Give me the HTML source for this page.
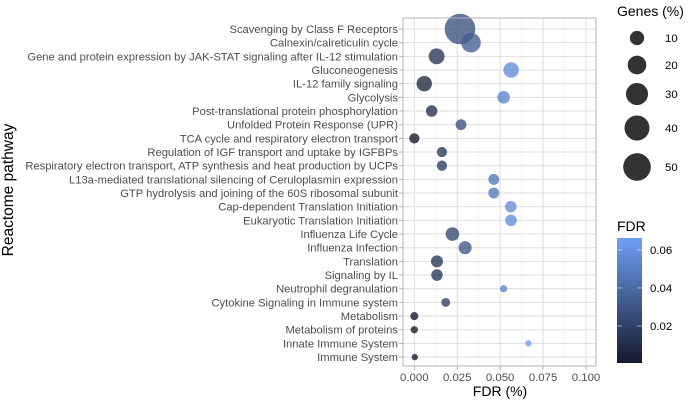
<!DOCTYPE html>
<html><head><meta charset="utf-8"><style>
body{margin:0;background:#fff;}
svg{display:block;font-family:"Liberation Sans",Arial,sans-serif;}
</style></head><body>
<svg id="c" width="688" height="403" viewBox="0 0 688 403">
<defs><linearGradient id="fdrgrad" x1="0" y1="1" x2="0" y2="0">
<stop offset="0" stop-color="#141a2b"/><stop offset="1" stop-color="#6fa0f7"/></linearGradient></defs>
<g id="grid"></g><g id="marks"></g><g id="axes"></g>
<text x="13" y="190" transform="rotate(-90 13 190)" text-anchor="middle" font-size="15.5" fill="#000">Reactome pathway</text>
<text x="500" y="396" text-anchor="middle" font-size="14" fill="#000">FDR (%)</text>
<g>
<text x="617" y="16" font-size="14" fill="#000">Genes (%)</text>
<g id="sizeleg"></g></g>
<g>
<text x="617" y="231" font-size="14" fill="#000">FDR</text>
<rect x="617" y="238" width="25" height="125" fill="url(#fdrgrad)"/>
<g id="colleg"></g></g>
</svg>
<script>
const categories=["Scavenging by Class F Receptors","Calnexin/calreticulin cycle","Gene and protein expression by JAK-STAT signaling after IL-12 stimulation","Gluconeogenesis","IL-12 family signaling","Glycolysis","Post-translational protein phosphorylation","Unfolded Protein Response (UPR)","TCA cycle and respiratory electron transport","Regulation of IGF transport and uptake by IGFBPs","Respiratory electron transport, ATP synthesis and heat production by UCPs","L13a-mediated translational silencing of Ceruloplasmin expression","GTP hydrolysis and joining of the 60S ribosomal subunit","Cap-dependent Translation Initiation","Eukaryotic Translation Initiation","Influenza Life Cycle","Influenza Infection","Translation","Signaling by IL","Neutrophil degranulation","Cytokine Signaling in Immune system","Metabolism","Metabolism of proteins","Innate Immune System","Immune System"];
const fdrValues=[0.0266,0.033,0.013,0.0564,0.0058,0.052,0.0101,0.0272,0.0,0.0161,0.0161,0.0463,0.0463,0.0562,0.0563,0.0222,0.0296,0.0132,0.0132,0.052,0.0183,0.0,0.0,0.0664,0.0003];
const geneValues=[68,26,16,15,15,9,7,6,5,5,5,6,6,7,7,11,10,8,7,1,3,2,1,0,0];
const xTicks=[0,0.025,0.05,0.075,0.1];
const xTickLabels=["0.000","0.025","0.050","0.075","0.100"];
const sizeLegendValues=[10,20,30,40,50];
const colorTicks=[0.02,0.04,0.06];
const colorTickLabels=["0.02","0.04","0.06"];

const NS="http://www.w3.org/2000/svg";
const PL=403,PR=596,PT=18,PB=366;
const x=v=>414.3+v/0.1*171.7;
const y=i=>29+i*13.67;
const r=v=>Math.sqrt(10+3.3*v);
const cy=v=>363-(v-0.0005)/(0.0663-0.0005)*125;
function lerp(a,b,t){return Math.round(a+(b-a)*t);}
function col(v){let t=Math.max(0,Math.min(1,v/0.0663));
 return `rgb(${lerp(20,111,t)},${lerp(26,160,t)},${lerp(43,247,t)})`;}
function mk(tag,attrs,parent){const e=document.createElementNS(NS,tag);for(const k in attrs)e.setAttribute(k,attrs[k]);parent.appendChild(e);return e;}
const grid=document.getElementById('grid'),marks=document.getElementById('marks'),axes=document.getElementById('axes');
mk('rect',{x:PL,y:PT,width:PR-PL,height:PB-PT,fill:'#fff'},grid);
for(let i=0;i<xTicks.length-1;i++){const xm=x((xTicks[i]+xTicks[i+1])/2);
 mk('line',{x1:xm,x2:xm,y1:PT,y2:PB,stroke:'#f0f0f0','stroke-width':0.7},grid);}
xTicks.forEach(t=>mk('line',{x1:x(t),x2:x(t),y1:PT,y2:PB,stroke:'#dedede','stroke-width':1},grid));
categories.forEach((c,i)=>mk('line',{x1:PL,x2:PR,y1:y(i),y2:y(i),stroke:'#dedede','stroke-width':1},grid));
const border=mk('rect',{x:PL,y:PT,width:PR-PL,height:PB-PT,fill:'none',stroke:'#b3b3b3','stroke-width':1},axes);


categories.forEach((c,i)=>{
 mk('line',{x1:PL-4,x2:PL,y1:y(i),y2:y(i),stroke:'#b3b3b3'},axes);
 const t=mk('text',{x:PL-5,y:y(i)+4,'text-anchor':'end','font-size':11.2,fill:'#4d4d4d'},axes);
 t.textContent=c;
 
 
});
xTicks.forEach((v,i)=>{
 mk('line',{x1:x(v),x2:x(v),y1:PB,y2:PB+4,stroke:'#b3b3b3'},axes);
 const t=mk('text',{x:x(v),y:PB+15,'text-anchor':'middle','font-size':11.4,fill:'#4d4d4d'},axes);
 t.textContent=xTickLabels[i];
 
 
});
categories.forEach((c,i)=>{
 const ci=mk('circle',{cx:x(fdrValues[i]),cy:y(i),r:r(geneValues[i]),fill:col(fdrValues[i]),'fill-opacity':0.78},marks);
 
 
});
const sl=document.getElementById('sizeleg');const sy=[38,65,94,128,167];
sizeLegendValues.forEach((v,i)=>{
 const ci=mk('circle',{cx:637,cy:sy[i],r:r(v)+0.6,fill:'#333'},sl);
 
 
 const t=mk('text',{x:665,y:sy[i]+4,'font-size':11.4,fill:'#000'},sl);
 t.textContent=v;
 
 
});
const cl=document.getElementById('colleg');
colorTicks.forEach((v,i)=>{
 mk('line',{x1:617,x2:622,y1:cy(v),y2:cy(v),stroke:'#ffffff','stroke-opacity':0.5},cl);
 mk('line',{x1:637,x2:642,y1:cy(v),y2:cy(v),stroke:'#ffffff','stroke-opacity':0.5},cl);
 const t=mk('text',{x:650,y:cy(v)+4,'font-size':11.4,fill:'#000'},cl);
 t.textContent=colorTickLabels[i];
 
 
});
</script>
</body></html>
